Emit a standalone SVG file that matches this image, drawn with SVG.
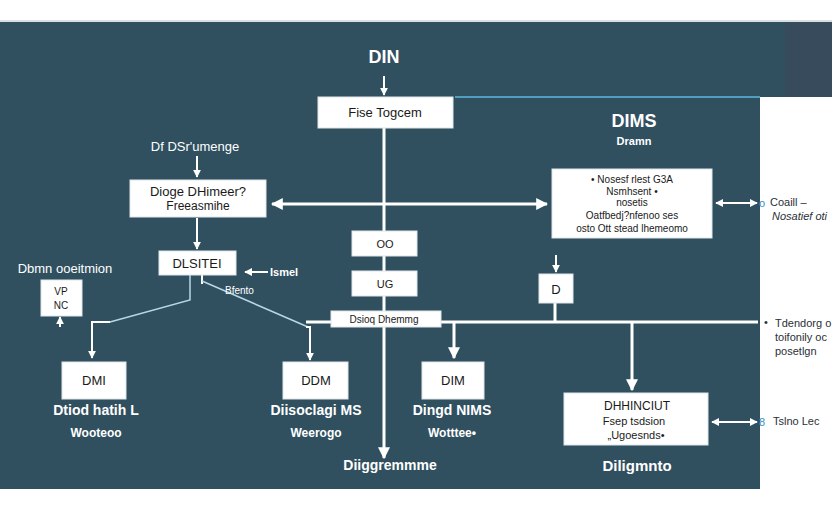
<svg xmlns="http://www.w3.org/2000/svg" width="832" height="512" viewBox="0 0 832 512">
<style>
.box{fill:#ffffff;stroke:#dfe6ea;stroke-width:1}
.bt{font-family:"Liberation Sans",Arial,sans-serif;fill:#1a1a1a;text-anchor:middle}
.wt{font-family:"Liberation Sans",Arial,sans-serif;fill:#ffffff;text-anchor:middle;font-weight:bold}
.wn{font-family:"Liberation Sans",Arial,sans-serif;fill:#ffffff;text-anchor:middle;font-weight:normal}
.dt{font-family:"Liberation Sans",Arial,sans-serif;fill:#2a3038;font-size:11px}
.ln{stroke:#ffffff;stroke-width:3;fill:none}
.thin{stroke:#ffffff;stroke-width:2;fill:none}
.diag{stroke:#b9d6e4;stroke-width:1.5;fill:none}
</style>
<defs>
<marker id="ah" viewBox="0 0 10 10" refX="9" refY="5" markerWidth="4" markerHeight="4" orient="auto-start-reverse" markerUnits="strokeWidth">
<path d="M0,0 L10,5 L0,10 z" fill="#ffffff"/>
</marker>
</defs>
<rect x="0" y="0" width="832" height="512" fill="#ffffff"/>
<rect x="0" y="20" width="832" height="2" fill="#d8dee2"/>
<rect x="0" y="22" width="832" height="75" fill="#30505f"/>
<rect x="785" y="22" width="47" height="75" fill="#374b5d"/>
<rect x="0" y="97" width="760" height="392" fill="#30505f"/>
<line x1="455" y1="97" x2="760" y2="97" stroke="#5db8e2" stroke-width="1.5"/>

<g id="connectors">
<line class="thin" x1="384" y1="76" x2="384" y2="95" marker-end="url(#ah)"/>
<line class="ln" x1="384" y1="128" x2="384" y2="458" marker-end="url(#ah)"/>
<line class="ln" x1="272" y1="204" x2="547" y2="204" marker-start="url(#ah)" marker-end="url(#ah)"/>
<line class="thin" x1="197" y1="156" x2="197" y2="177" marker-end="url(#ah)"/>
<line class="thin" x1="197" y1="218" x2="197" y2="249" marker-end="url(#ah)"/>
<line class="thin" x1="268" y1="272" x2="245" y2="272" marker-end="url(#ah)"/>
<polyline class="diag" points="190,275 190,300 110,322"/>
<polyline class="thin" points="110,322 92,322 92,358" marker-end="url(#ah)"/>
<line class="thin" x1="202" y1="275" x2="202" y2="284"/>
<polyline class="diag" points="202,281 308,327"/>
<polyline class="thin" points="306,327 310,327 310,360" marker-end="url(#ah)"/>
<line class="ln" x1="306" y1="322" x2="758" y2="322"/>
<line class="ln" x1="454" y1="322" x2="454" y2="358" marker-end="url(#ah)"/>
<line class="ln" x1="632" y1="322" x2="632" y2="390" marker-end="url(#ah)"/>
<line class="thin" x1="556" y1="255" x2="556" y2="272" marker-end="url(#ah)"/>
<line class="ln" x1="555" y1="303" x2="555" y2="322"/>
<line class="thin" x1="716" y1="203" x2="757" y2="203" marker-start="url(#ah)" marker-end="url(#ah)"/>
<line class="thin" x1="712" y1="422" x2="757" y2="422" marker-start="url(#ah)" marker-end="url(#ah)"/>
<line class="thin" x1="60" y1="327" x2="60" y2="317" marker-end="url(#ah)"/>
</g>

<g id="title-din"><text class="wt" x="384" y="63" font-size="18">DIN</text></g>

<g id="node-fise"><rect class="box" x="318" y="97" width="135" height="31"/><text class="bt" x="385" y="117" font-size="13">Fise Togcem</text></g>

<g id="node-dims">
<text class="wt" x="634" y="127" font-size="18">DIMS</text>
<text class="wt" x="634" y="145" font-size="11">Dramn</text>
<rect class="box" x="552" y="169" width="160" height="69"/>
<text class="bt" x="632" y="183" font-size="10">• Nosesf rlest G3A</text>
<text class="bt" x="632" y="195" font-size="10">Nsmhsent •</text>
<text class="bt" x="632" y="206" font-size="10">nosetis</text>
<text class="bt" x="632" y="219" font-size="10">Oatfbedj?nfenoo ses</text>
<text class="bt" x="632" y="232" font-size="10">osto Ott  stead lhemeomo</text>
</g>

<g id="label-coaill">
<text x="759" y="207" font-family="Liberation Sans,Arial,sans-serif" font-size="11" fill="#3b8fc0">o</text>
<text class="dt" x="770" y="206">Coaill –</text>
<text class="dt" x="772" y="220" font-style="italic">Nosatief oti</text>
</g>

<g id="node-dioge">
<text class="wn" x="195" y="151" font-size="13">Df DSr'umenge</text>
<rect class="box" x="130" y="180" width="136" height="37"/>
<text class="bt" x="198" y="196" font-size="13">Dioge DHimeer?</text>
<text class="bt" x="198" y="210" font-size="12">Freeasmihe</text>
</g>

<g id="node-oo"><rect class="box" x="352" y="231" width="65" height="25"/><text class="bt" x="385" y="248" font-size="11">OO</text></g>
<g id="node-ug"><rect class="box" x="352" y="271" width="65" height="25"/><text class="bt" x="385" y="288" font-size="11">UG</text></g>

<g id="node-d"><rect class="box" x="539" y="274" width="34" height="29"/><text class="bt" x="556" y="294" font-size="13">D</text></g>

<g id="node-dlsitei">
<rect class="box" x="159" y="251" width="77" height="24"/>
<text class="bt" x="197" y="268" font-size="13" font-family="Liberation Mono,monospace">DLSITEI</text>
<text x="270" y="276" font-family="Liberation Sans,Arial,sans-serif" font-size="11" font-weight="bold" fill="#ffffff">Ismel</text>
<text x="225" y="294" font-family="Liberation Sans,Arial,sans-serif" font-size="10" fill="#ffffff">Bfento</text>
</g>

<g id="node-vpnc">
<text class="wn" x="65" y="273" font-size="13">Dbmn ooeitmion</text>
<rect class="box" x="41" y="280" width="41" height="36"/>
<text class="bt" x="61" y="295" font-size="10">VP</text>
<text class="bt" x="61" y="309" font-size="10">NC</text>
</g>

<g id="node-dsioq"><rect class="box" x="331" y="311" width="110" height="16"/><text class="bt" x="384" y="323" font-size="10">Dsioq Dhemmg</text></g>

<g id="node-dmi">
<rect class="box" x="62" y="362" width="64" height="37"/>
<text class="bt" x="94" y="385" font-size="13">DMI</text>
<text class="wt" x="96" y="415" font-size="14">Dtiod hatih L</text>
<text class="wt" x="96" y="437" font-size="12">Wooteoo</text>
</g>

<g id="node-ddm">
<rect class="box" x="283" y="362" width="65" height="37"/>
<text class="bt" x="316" y="385" font-size="13">DDM</text>
<text class="wt" x="316" y="415" font-size="14">Diisoclagi MS</text>
<text class="wt" x="316" y="437" font-size="12">Weerogo</text>
</g>

<g id="node-dim">
<rect class="box" x="422" y="362" width="62" height="37"/>
<text class="bt" x="453" y="385" font-size="13">DIM</text>
<text class="wt" x="452" y="415" font-size="14">Dingd NIMS</text>
<text class="wt" x="452" y="437" font-size="12">Wotttee•</text>
</g>

<g id="label-diiggremmme"><text class="wt" x="390" y="470" font-size="14">Diiggremmme</text></g>

<g id="node-dhhinciut">
<rect class="box" x="564" y="393" width="144" height="52"/>
<text class="bt" x="637" y="410" font-size="12">DHHINCIUT</text>
<text class="bt" x="634" y="425" font-size="11">Fsep tsdsion</text>
<text class="bt" x="636" y="439" font-size="11">„Ugoesnds•</text>
<text class="wt" x="637" y="471" font-size="15">Diligmnto</text>
</g>

<g id="label-tslno">
<text x="759" y="426" font-family="Liberation Sans,Arial,sans-serif" font-size="11" fill="#3b8fc0">8</text>
<text class="dt" x="773" y="425">Tslno Lec</text>
</g>

<g id="label-tdendorg">
<text class="dt" x="764" y="326">•</text>
<text class="dt" x="775" y="327">Tdendorg o</text>
<text class="dt" x="775" y="341">toifonily oc</text>
<text class="dt" x="775" y="355">posetlgn</text>
</g>
</svg>
